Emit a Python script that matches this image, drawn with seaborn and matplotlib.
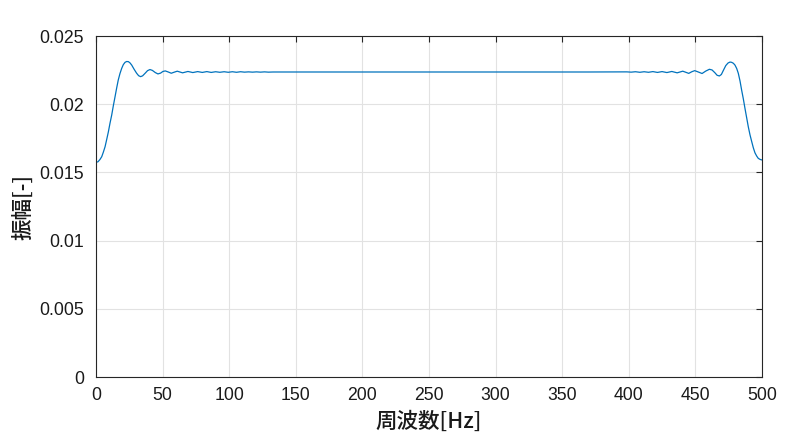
import matplotlib
matplotlib.use("Agg")
import matplotlib.pyplot as plt
import seaborn as sns
import pandas as pd

# ---- data ----
freq_hz = [
    0, 1.5, 3, 4.3, 5.5, 6.8, 8, 9.3, 10.5, 11.8, 13, 14.3, 15.5, 16.7, 18, 19.3,
    20.5, 21.8, 23, 24.3, 25.5, 26.8, 28.5, 30.5, 32, 33.5, 35, 36.8, 38.7, 40.5,
    42.3, 44.5, 46.5, 48.5, 50.2, 52, 54.3, 56.5, 58.8, 61, 63, 65,
    69, 72.7, 76.3, 79.8, 83.2, 86.5, 89.8, 93, 96.2, 99.3, 102.4, 105.5, 108.5,
    111.5, 114.5, 117.5, 120.5, 123.5, 126.5, 129.5, 133,
    250, 370,
    398.5, 401.8, 405, 408.3, 411.5, 414.8, 418.1, 421.5, 425, 428.6, 432.3,
    436.3, 438.4, 440.5, 442.8, 445, 447.3, 449.5, 452.2, 455, 457.8, 460.5,
    462.5, 464.6, 466.3, 468, 469.5, 471, 472.8, 474.5, 476, 477.2, 478.5, 479.7,
    481, 482.2, 483.5, 484.7, 486, 487.2, 488.5, 489.7, 491, 492.3, 493.5, 494.7,
    496, 497.2, 498.6, 500,
]
amplitude = [
    0.01574, 0.01578, 0.01595, 0.01615, 0.01648, 0.01688, 0.01740, 0.01798,
    0.01860, 0.01921, 0.01988, 0.02055, 0.02118, 0.02177, 0.02225, 0.02263,
    0.02290, 0.02307, 0.02313, 0.02312, 0.02303, 0.02287, 0.02258, 0.02227,
    0.02209, 0.02202, 0.02208, 0.02226, 0.02246, 0.02254, 0.02248, 0.02232,
    0.02222, 0.02228, 0.02240, 0.02244, 0.02236, 0.02227, 0.02235, 0.02242,
    0.02236, 0.02230,
    0.02240, 0.02232, 0.02239, 0.02233, 0.02239, 0.02233, 0.02238, 0.02234,
    0.02238, 0.02234, 0.02238, 0.02234, 0.02238, 0.02235, 0.02237, 0.02235,
    0.02237, 0.02235, 0.02237, 0.02235, 0.022361,
    0.022361, 0.022361,
    0.02237, 0.02235, 0.02238, 0.02234, 0.02238, 0.02234, 0.02239, 0.02233,
    0.02239, 0.02232, 0.02240,
    0.02230, 0.02236, 0.02242, 0.02234, 0.02226, 0.02238, 0.02246, 0.02236,
    0.02225, 0.02243, 0.02256,
    0.02251, 0.02231, 0.02212, 0.02207, 0.02218, 0.02248, 0.02283, 0.02302,
    0.02309, 0.02307, 0.02300, 0.02287,
    0.02262, 0.02227, 0.02170, 0.02104, 0.02038, 0.01970, 0.01900, 0.01835,
    0.01775, 0.01725, 0.01680, 0.01644,
    0.01620, 0.01603, 0.01595, 0.01591,
]
xtick_values = [0, 50, 100, 150, 200, 250, 300, 350, 400, 450, 500]
ytick_values = [0, 0.005, 0.01, 0.015, 0.02, 0.025]
ytick_labels = ["0", "0.005", "0.01", "0.015", "0.02", "0.025"]
x_label = "周波数[Hz]"
y_label = "振幅[-]"

df = pd.DataFrame({"freq": freq_hz, "amp": amplitude})

sns.set_style("white")
plt.rcParams["font.family"] = ["Liberation Sans", "DejaVu Sans"]

fig = plt.figure(figsize=(7.94, 4.48), dpi=100)
ax = fig.add_axes([96 / 794, 1 - 377 / 448, 666 / 794, 341 / 448])

sns.lineplot(data=df, x="freq", y="amp", ax=ax, color="#0072BD",
             linewidth=0.9, sort=False, estimator=None)

ax.set_xlim(0, 500)
ax.set_ylim(0, 0.025)
ax.set_xticks(xtick_values)
ax.set_xticklabels([str(v) for v in xtick_values])
ax.set_yticks(ytick_values)
ax.set_yticklabels(ytick_labels)

ax.grid(True, color="#e2e2e2", linewidth=0.8)
ax.set_axisbelow(True)
for s in ax.spines.values():
    s.set_color("#262626")
    s.set_linewidth(0.8)
    s.set_visible(True)

ax.tick_params(axis="both", which="major", direction="in", length=4.5,
               width=0.8, color="#262626", labelcolor="#1a1a1a",
               labelsize=12.7, top=True, right=True)
ax.tick_params(axis="x", pad=7.5)
ax.tick_params(axis="y", pad=8.5)

cjk = ["Noto Sans CJK JP", "DejaVu Sans"]
ax.set_xlabel(x_label, fontsize=15.5, family=cjk, color="#1a1a1a",
              fontweight="medium")
ax.set_ylabel(y_label, fontsize=15.5, family=cjk, color="#1a1a1a",
              fontweight="medium")
ax.xaxis.set_label_coords(0.5, -0.1)
ax.yaxis.set_label_coords(-0.092, 0.5)

fig.savefig("out.png", dpi=100)
